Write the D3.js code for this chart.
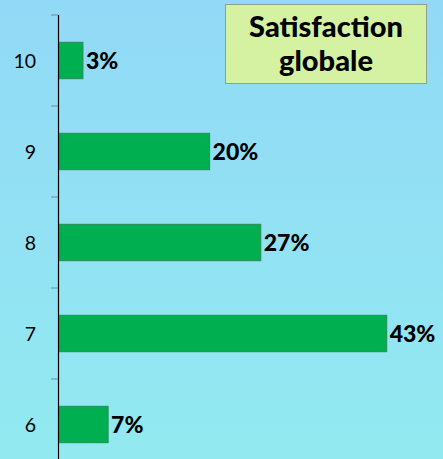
<!DOCTYPE html>
<html><head><meta charset="utf-8">
<script src="https://cdn.jsdelivr.net/npm/d3@7"></script>
<style>html,body{margin:0;padding:0;overflow:hidden;}svg{display:block;}</style>
</head><body>
<script>
const categories = ["10", "9", "8", "7", "6"];
const values = [3.2, 19.8, 26.5, 43, 6.5];
const valueLabels = ["3%", "20%", "27%", "43%", "7%"];
const titleLines = ["Satisfaction", "globale"];

const W = 443, H = 459;
const svg = d3.select("body").append("svg").attr("width", W).attr("height", H);
const defs = svg.append("defs");
const g = defs.append("linearGradient").attr("id", "bg").attr("x1", 0).attr("y1", 0).attr("x2", 0).attr("y2", 1);
g.append("stop").attr("offset", "0%").attr("stop-color", "#92d9f7");
g.append("stop").attr("offset", "100%").attr("stop-color", "#92eaf0");
svg.append("rect").attr("width", W).attr("height", H).attr("fill", "url(#bg)");

const x = d3.scaleLinear().domain([0, 43]).range([58.5, 386.7]);
const y = d3.scaleBand().domain(categories).range([15, 470]).paddingInner(0.6).paddingOuter(0.3);
const step = y.step();

// bars
svg.selectAll("rect.bar").data(categories).enter().append("rect")
  .attr("class", "bar")
  .attr("x", x(0))
  .attr("y", d => y(d))
  .attr("width", (d, i) => x(values[i]) - x(0))
  .attr("height", y.bandwidth())
  .attr("fill", "#00b050")
  .attr("stroke", "#2a8a55")
  .attr("stroke-width", 1);

// value labels
svg.selectAll("text.val").data(categories).enter().append("text")
  .attr("class", "val")
  .attr("x", (d, i) => x(values[i]) + 3)
  .attr("y", d => y(d) + y.bandwidth() / 2)
  .attr("dy", "0.36em")
  .attr("font-family", "Lato, 'Open Sans', sans-serif")
  .attr("font-weight", 900)
  .attr("font-size", 23)
  .attr("fill", "#000")
  .text((d, i) => valueLabels[i]);

// axis ticks (between categories)
const tickYs = d3.range(categories.length + 1).map(i => 15 + i * step);
svg.selectAll("line.tick").data(tickYs).enter().append("line")
  .attr("x1", 51).attr("x2", 58.5)
  .attr("y1", d => d).attr("y2", d => d)
  .attr("stroke", "#6f8ea0").attr("stroke-width", 1);

// axis line
svg.append("line").attr("x1", 58.5).attr("x2", 58.5).attr("y1", 15).attr("y2", H)
  .attr("stroke", "#000").attr("stroke-width", 1.2);

// category labels
svg.selectAll("text.cat").data(categories).enter().append("text")
  .attr("class", "cat")
  .attr("x", 36)
  .attr("y", d => y(d) + y.bandwidth() / 2)
  .attr("dy", "0.36em")
  .attr("text-anchor", "end")
  .attr("font-family", "Lato, 'Open Sans', sans-serif")
  .attr("font-size", 19.5)
  .attr("fill", "#000")
  .text(d => d);

// title box
svg.append("rect").attr("x", 225.5).attr("y", 4.5).attr("width", 201).attr("height", 79)
  .attr("fill", "#d5f1a2").attr("stroke", "#8ea08a").attr("stroke-width", 1);
svg.selectAll("text.title").data(titleLines).enter().append("text")
  .attr("class", "title")
  .attr("x", 326)
  .attr("y", (d, i) => 37 + i * 34)
  .attr("text-anchor", "middle")
  .attr("font-family", "Lato, 'Open Sans', sans-serif")
  .attr("font-weight", 900)
  .attr("font-size", 29)
  .attr("fill", "#000")
  .text(d => d);
</script>
</body></html>
